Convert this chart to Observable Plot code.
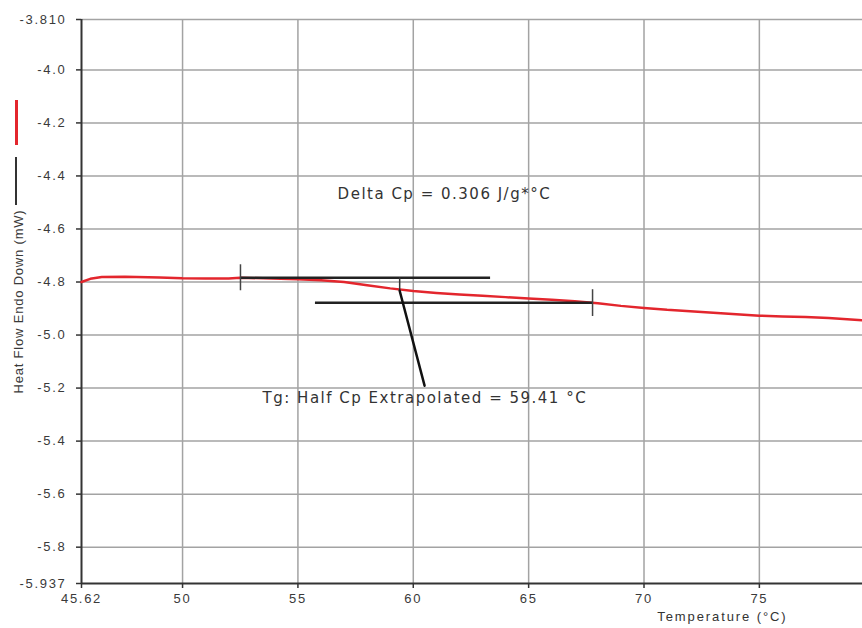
<!DOCTYPE html>
<html>
<head>
<meta charset="utf-8">
<script src="https://cdn.jsdelivr.net/npm/d3@7"></script>
<script src="https://cdn.jsdelivr.net/npm/@observablehq/plot@0.6"></script>
<style>
  body { margin: 0; background: #fff; }
  #wrap { position: relative; width: 862px; height: 628px; overflow: hidden; }
  .leg { position: absolute; left: 15px; width: 3px; }
  g[aria-label="x-axis tick label"] text, g[aria-label="y-axis tick label"] text { letter-spacing: 1.7px; }
  g[aria-label="y-axis label"] text { letter-spacing: 0.8px; }
  .note text { letter-spacing: 1.5px; }
  .xlab text { letter-spacing: 1.9px; }
</style>
</head>
<body>
<div id="wrap">
  <div class="leg" style="top:100px;height:45px;background:#e3262d;"></div>
  <div class="leg" style="top:157px;height:48px;background:#333;width:2px;"></div>
</div>
<script>
// Heat flow curve (temperature °C, heat flow mW)
const temperature = [45.62, 46.0, 46.5, 47.5, 49, 50, 51, 52, 52.5, 53.5, 55, 56, 57, 58, 59, 60, 61, 62, 63, 64, 65, 66, 67, 68, 69, 70, 71, 72, 73, 74, 75, 76, 77, 78, 79.47];
const heatFlow = [-4.800, -4.788, -4.781, -4.780, -4.783, -4.786, -4.787, -4.787, -4.784, -4.786, -4.790, -4.793, -4.800, -4.812, -4.824, -4.834, -4.841, -4.847, -4.852, -4.857, -4.862, -4.867, -4.873, -4.880, -4.890, -4.898, -4.905, -4.910, -4.916, -4.922, -4.927, -4.930, -4.932, -4.936, -4.944];

// Tangent (baseline) lines: [x1, x2, y]
const onsetLine = [52.51, 63.35, -4.784];
const endLine = [55.76, 67.77, -4.878];
// Limit markers: [x, yTop, yBottom]
const limitMarks = [[52.51, -4.735, -4.833], [67.77, -4.829, -4.93]];
// Tg marker
const tgValue = 59.41;
const tgMark = [59.41, -4.784, -4.833];
const tgPointer = [[59.41, -4.833], [60.49, -5.191]];

// Axis ticks
const xTicks = [45.62, 50, 55, 60, 65, 70, 75];
const xTickLabels = ["45.62", "50", "55", "60", "65", "70", "75"];
const yTicks = [-3.810, -4.0, -4.2, -4.4, -4.6, -4.8, -5.0, -5.2, -5.4, -5.6, -5.8, -5.937];
const yTickLabels = ["-3.810", "-4.0", "-4.2", "-4.4", "-4.6", "-4.8", "-5.0", "-5.2", "-5.4", "-5.6", "-5.8", "-5.937"];
const xDomain = [45.62, 79.47];
const yDomain = [-5.937, -3.810];

// Annotations
const notes = [
  {x: 56.72, y: -4.467, text: "Delta Cp = 0.306 J/g*°C"},
  {x: 53.47, y: -5.240, text: "Tg: Half Cp Extrapolated = 59.41 °C"}
];
const xLabel = {x: 73.4, text: "Temperature (°C)"};
const yLabel = "Heat Flow Endo Down (mW)";

const curve = temperature.map((t, i) => ({t, v: heatFlow[i]}));
const gridColor = "#a3a3a3";
const ink = "#333";

const chart = Plot.plot({
  width: 862,
  height: 628,
  marginTop: 19,
  marginBottom: 45,
  marginLeft: 81,
  marginRight: 0,
  style: {fontFamily: "Liberation Sans, Arial, sans-serif", fontSize: "13px", color: "#3a3a3a", background: "#fff"},
  x: {domain: xDomain},
  y: {domain: yDomain},
  marks: [
    Plot.ruleX(xTicks.slice(1), {stroke: gridColor, strokeWidth: 1.5}),
    Plot.ruleY(yTicks.slice(0, -1), {stroke: gridColor, strokeWidth: 1.5}),
    Plot.axisX({ticks: xTicks, tickFormat: (d, i) => xTickLabels[i], tickSize: 5, tickPadding: 5, stroke: ink, strokeWidth: 1.5, fontSize: 13, label: null}),
    Plot.axisY({ticks: yTicks, tickFormat: (d, i) => yTickLabels[i], tickSize: 5, tickPadding: 10, stroke: ink, strokeWidth: 1.5, fontSize: 13, label: yLabel, labelAnchor: "center", labelArrow: "none", labelOffset: 68}),
    Plot.ruleY([yDomain[0]], {stroke: ink, strokeWidth: 2}),
    Plot.ruleX([xDomain[0]], {stroke: ink, strokeWidth: 2}),
    Plot.line(curve, {x: "t", y: "v", stroke: "#e3262d", strokeWidth: 2.5}),
    Plot.ruleY([onsetLine], {x1: d => d[0], x2: d => d[1], y: d => d[2], stroke: "#222", strokeWidth: 2.5}),
    Plot.ruleY([endLine], {x1: d => d[0], x2: d => d[1], y: d => d[2], stroke: "#222", strokeWidth: 2.5}),
    Plot.ruleX(limitMarks, {x: d => d[0], y1: d => d[1], y2: d => d[2], stroke: "#444", strokeWidth: 1.5}),
    Plot.ruleX([tgMark], {x: d => d[0], y1: d => d[1], y2: d => d[2], stroke: "#333", strokeWidth: 1.5}),
    Plot.line(tgPointer, {x: d => d[0], y: d => d[1], stroke: "#111", strokeWidth: 2.5}),
    Plot.text(notes, {x: "x", y: "y", text: "text", textAnchor: "start", fontSize: 15, fill: "#333", fontFamily: "DejaVu Sans, sans-serif", className: "note"}),
    Plot.text([xLabel], {x: "x", text: "text", frameAnchor: "bottom", dy: 37, fontSize: 13, fill: "#333", className: "xlab"})
  ]
});
document.getElementById("wrap").prepend(chart);
</script>
</body>
</html>
